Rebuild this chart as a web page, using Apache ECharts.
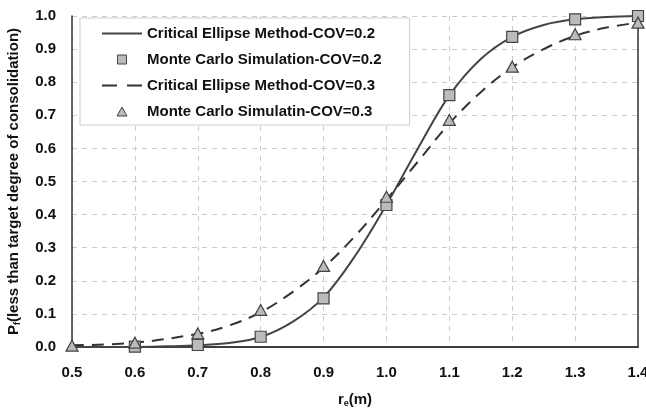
<!DOCTYPE html>
<html><head><meta charset="utf-8">
<script src="https://cdn.jsdelivr.net/npm/echarts@6/dist/echarts.min.js"></script>
<style>html,body{margin:0;padding:0;background:#fff}#c{width:646px;height:409px}</style>
</head><body><div id="c"></div>
<script>
var xTicks = [0.5,0.6,0.7,0.8,0.9,1.0,1.1,1.2,1.3,1.4];
// Critical Ellipse Method, COV=0.2 (solid curve)
var cemX02 = [0.5,0.55,0.6,0.65,0.7,0.75,0.8,0.85,0.9,0.95,1.0,1.05,1.1,1.15,1.2,1.25,1.3,1.35,1.4];
var cemY02 = [0,0,0.0,0.002,0.005,0.012,0.03,0.075,0.15,0.275,0.43,0.6,0.76,0.87,0.937,0.973,0.99,0.997,1.0];
// Monte Carlo, COV=0.2 (squares)
var mcsX02 = [0.6,0.7,0.8,0.9,1.0,1.1,1.2,1.3,1.4];
var mcsY02 = [0.001,0.006,0.031,0.147,0.429,0.761,0.937,0.99,1.0];
// Critical Ellipse Method, COV=0.3 (dashed curve)
var cemX03 = [0.5,0.6,0.7,0.75,0.8,0.85,0.9,0.95,1.0,1.05,1.1,1.15,1.2,1.25,1.3,1.35,1.4];
var cemY03 = [0.005,0.013,0.04,0.065,0.105,0.165,0.24,0.335,0.445,0.56,0.675,0.77,0.845,0.9,0.94,0.965,0.98];
// Monte Carlo, COV=0.3 (triangles)
var mcsX03 = [0.5,0.6,0.7,0.8,0.9,1.0,1.1,1.2,1.3,1.4];
var mcsY03 = [0.004,0.013,0.041,0.112,0.245,0.454,0.686,0.847,0.945,0.98];

function pairs(xs, ys){ return xs.map(function(x,i){return [x, ys[i]];}); }
var names = ['Critical Ellipse Method-COV=0.2','Monte Carlo Simulation-COV=0.2','Critical Ellipse Method-COV=0.3','Monte Carlo Simulatin-COV=0.3'];
var font = 'Liberation Sans, Arial, sans-serif';
var FS = 15;
var labelStyle = {fontFamily:font,fontWeight:'bold',fontSize:FS,color:'#111'};
var chart = echarts.init(document.getElementById('c'), null, {renderer:'canvas'});
chart.setOption({
  animation:false,
  grid:{left:72,right:8,top:16,bottom:62,containLabel:false,outerBoundsMode:'none',show:false},
  legend:{
    orient:'vertical', left:80, top:18,
    backgroundColor:'#fff', borderColor:'#ccc', borderWidth:1,
    padding:[8,28,6,22], itemGap:11, itemWidth:40, itemHeight:9,
    textStyle:{fontFamily:font,fontWeight:'bold',fontSize:FS,color:'#111'},
    data:[
      {name:names[0], icon:'path://M0,0 H40 V2 H0 Z', itemStyle:{color:'#444',borderWidth:0}},
      {name:names[1], icon:'path://M0,0 H10 V10 H0 Z', itemStyle:{color:'#bbb',borderColor:'#444',borderWidth:1}},
      {name:names[2], icon:'path://M0,0 H15 V2 H0 Z M25,0 H40 V2 H25 Z', itemStyle:{color:'#333',borderWidth:0}},
      {name:names[3], icon:'path://M5,0 L10,9 L0,9 Z', itemStyle:{color:'#bbb',borderColor:'#444',borderWidth:1}}
    ]
  },
  xAxis:[{
    type:'value', min:0.5, max:1.4, interval:0.1,
    name:'{r|r}{s|e}{r|(m)}', nameLocation:'middle', nameGap:45,
    nameTextStyle:{rich:{r:labelStyle,s:{fontFamily:font,fontWeight:'bold',fontSize:9,color:'#111',padding:[7,0,0,0]}}},
    axisLine:{lineStyle:{color:'#333',width:1.5}},
    axisTick:{show:false},
    axisLabel:Object.assign({margin:18,formatter:function(v){return v.toFixed(1);}},labelStyle),
    splitLine:{lineStyle:{color:'#ccc',type:[5,5],width:1}}
  },{
    type:'value', min:0.5, max:1.4, interval:0.1, position:'top',
    axisLine:{show:true,lineStyle:{color:'#333',width:1.5}},
    axisTick:{show:false}, axisLabel:{show:false}, splitLine:{show:false}
  }],
  yAxis:[{
    type:'value', min:0, max:1, interval:0.1,
    name:'{r|P}{s|f}{r|(less than target degree of consolidation)}', nameLocation:'middle', nameGap:50, nameRotate:90,
    nameTextStyle:{rich:{r:labelStyle,s:{fontFamily:font,fontWeight:'bold',fontSize:9,color:'#111',padding:[7,0,0,0]}}},
    axisLine:{show:true,lineStyle:{color:'#333',width:1.5}},
    axisTick:{show:false},
    axisLabel:Object.assign({margin:16,formatter:function(v){return v.toFixed(1);}},labelStyle),
    splitLine:{lineStyle:{color:'#ccc',type:[5,5],width:1}}
  },{
    type:'value', min:0, max:1, interval:0.1, position:'right',
    axisLine:{show:true,lineStyle:{color:'#333',width:1.5}},
    axisTick:{show:false}, axisLabel:{show:false}, splitLine:{show:false}
  }],
  series:[
    {name:names[0],type:'line',data:pairs(cemX02,cemY02),smooth:0.35,symbol:'none',lineStyle:{color:'#444',width:2},itemStyle:{color:'#444'},z:3},
    {name:names[1],type:'scatter',data:pairs(mcsX02,mcsY02),symbol:'rect',symbolSize:11,itemStyle:{color:'#bbb',borderColor:'#444',borderWidth:1.2,opacity:1},z:5},
    {name:names[2],type:'line',data:pairs(cemX03,cemY03),smooth:0.35,symbol:'none',lineStyle:{color:'#333',width:2,type:[12,8]},itemStyle:{color:'#333'},z:3},
    {name:names[3],type:'scatter',data:pairs(mcsX03,mcsY03),symbol:'triangle',symbolSize:[12,11],itemStyle:{color:'#bbb',borderColor:'#444',borderWidth:1.2,opacity:1},z:6}
  ]
});
</script></body></html>
